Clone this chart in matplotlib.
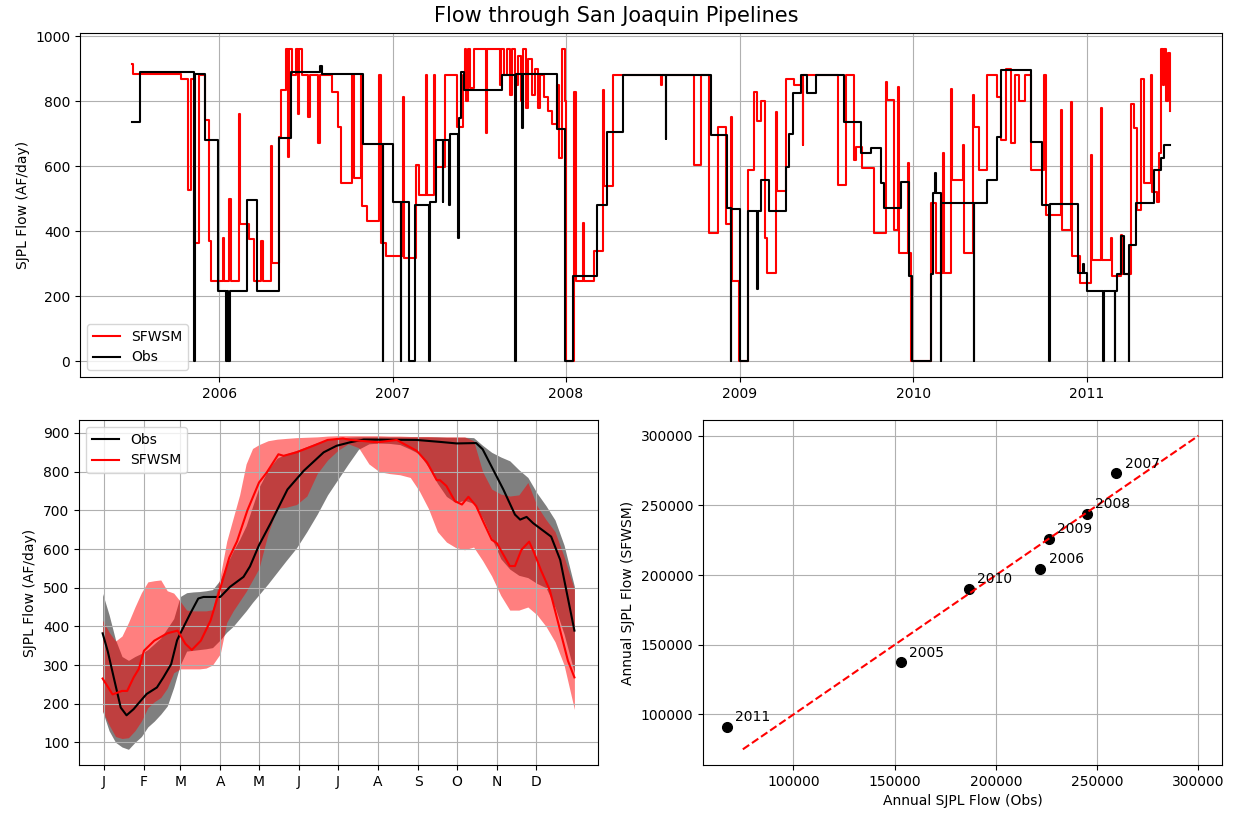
import numpy as np
import pandas as pd
import matplotlib
matplotlib.use('Agg')
import matplotlib.pyplot as plt
import matplotlib.dates as mdates

# ---- daily pipeline flow, stored as step change points (days since 2006-01-01, AF/day)
obs_t = [-184, -168, -53, -52, -31, -3, 14, 16, 19, 22, 58, 79, 126, 151, 212, 216,
         302, 344, 345, 365, 382, 383, 400, 413, 442, 443, 456, 470, 472, 484, 486,
         502, 504, 509, 516, 596, 623, 624, 638, 640, 712, 728, 744, 796, 817, 849,
         940, 941, 1035, 1070, 1077, 1078, 1097, 1113, 1133, 1134, 1140, 1158, 1193,
         1200, 1207, 1224, 1238, 1256, 1316, 1351, 1372, 1393, 1400, 1435, 1452, 1459,
         1498, 1502, 1506, 1510, 1519, 1520, 1589, 1590, 1617, 1638, 1645, 1709, 1733,
         1748, 1749, 1807, 1818, 1820, 1828, 1861, 1862, 1885, 1886, 1891, 1898, 1905,
         1915, 1916, 1930, 1968, 1982, 1989, 2002]
obs_q = [735, 890, 0, 885, 680, 215, 0, 215, 0, 215, 495, 215, 686, 890, 910, 885,
         670, 0, 670, 490, 0, 490, 0, 480, 0, 490, 680, 490, 680, 480, 700,
         380, 750, 890, 834, 880, 0, 885, 717, 885, 715, 0, 262, 482, 706, 880,
         683, 880, 696, 472, 0, 470, 0, 461, 221, 461, 558, 461, 599,
         700, 824, 880, 824, 880, 737, 640, 655, 548, 472, 553, 262, 0,
         270, 518, 579, 518, 0, 487, 0, 487, 558, 691, 895, 676, 482,
         0, 485, 273, 300, 273, 216, 0, 216, 0, 216, 270, 385, 270,
         0, 359, 487, 589, 625, 666, 666]

sim_t = [-184, -182, -80, -66, -60, -53, -42, -30, -22, -17, 7, 9, 21, 24, 42, 44, 63,
         72, 88, 92, 109, 111, 126, 130, 140, 144, 147, 154, 161, 165, 168, 175, 186,
         190, 207, 212, 237, 249, 256, 280, 283, 298, 301, 310, 337, 340, 352, 386,
         388, 414, 420, 435, 437, 453, 455, 476, 501, 513, 517, 520, 524, 528, 537,
         561, 564, 590, 593, 600, 606, 612, 616, 622, 628, 635, 640, 646, 650, 658,
         664, 670, 676, 684, 692, 700, 710, 716, 722, 727, 731, 746, 750, 765, 768,
         789, 807, 809, 828, 930, 932, 1000, 1014, 1031, 1049, 1066, 1078, 1080, 1095,
         1113, 1126, 1132, 1140, 1150, 1154, 1172, 1174, 1193, 1210, 1228, 1230, 1303,
         1320, 1336, 1340, 1354, 1379, 1403, 1405, 1421, 1428, 1431, 1450, 1452, 1456,
         1498, 1509, 1523, 1525, 1540, 1543, 1565, 1568, 1586, 1589, 1600, 1617, 1638,
         1646, 1656, 1666, 1676, 1683, 1697, 1709, 1737, 1740, 1772, 1775, 1793, 1796,
         1812, 1835, 1838, 1856, 1859, 1877, 1880, 1898, 1901, 1919, 1926, 1933, 1940,
         1947, 1961, 1964, 1975, 1978, 1982, 1986, 1990, 1994, 1998, 2001, 2002]
sim_q = [916, 885, 870, 528, 870, 364, 880, 742, 370, 247, 380, 247, 500, 247, 760, 421, 375,
         247, 370, 247, 661, 303, 691, 834, 962, 630, 962, 880, 962, 760, 962, 880, 752,
         880, 671, 880, 830, 722, 548, 880, 564, 880, 477, 431, 880, 364, 324, 814,
         318, 604, 512, 880, 512, 880, 599, 880, 722, 880, 962, 800, 960, 840, 962,
         701, 962, 850, 962, 880, 962, 820, 962, 850, 940, 800, 962, 780, 930, 820,
         900, 780, 880, 812, 770, 730, 850, 625, 962, 800, 0, 829, 247, 426, 247,
         339, 834, 538, 880, 850, 880, 604, 880, 395, 722, 421, 752, 247, 0,
         589, 829, 740, 800, 380, 273, 768, 523, 870, 850, 666, 880, 543,
         880, 620, 660, 594, 395, 860, 804, 405, 844, 334, 609, 334, 0,
         487, 273, 640, 273, 839, 558, 666, 334, 820, 722, 589, 880, 814,
         680, 900, 671, 880, 800, 880, 589, 880, 451, 773, 405, 798, 324,
         242, 635, 313, 780, 313, 380, 262, 390, 270, 793, 717, 467, 870,
         548, 880, 520, 490, 640, 960, 850, 960, 800, 950, 770, 770]

# ---- day-of-year climatology
obs_mean_day = [0, 4, 9, 14, 18.5, 24, 27, 34, 42, 47, 53, 57.6, 60, 67.8, 74, 78, 88,
                91, 98.5, 109, 114, 121, 130, 143, 155.5, 171, 181, 191.5, 202, 243,
                261, 274, 289, 294, 302, 310, 319, 323, 328, 333, 347, 354, 365]
obs_mean = [382, 335, 262, 190, 170, 186, 198, 225, 242, 268, 302, 364, 381, 433, 472,
            476, 476, 476, 502, 528, 555, 610, 667, 754, 802, 850, 867, 876, 883, 882,
            877, 873, 874, 858, 806, 754, 689, 676, 683, 667, 632, 572, 389]

sim_mean_day = [0, 7.7, 15, 19, 24, 28, 32, 40, 50, 58, 64, 69, 76, 83.5, 91, 98, 104,
                112, 121, 127, 136, 140, 150, 163, 174, 186, 191.5, 213, 227.5, 238,
                243, 251, 258.5, 261, 266, 272.5, 278, 283, 289, 295, 301, 305, 315,
                319, 324, 330, 334, 339, 346, 354, 360, 365]
sim_mean = [265, 224, 233, 233, 268, 290, 337, 363, 382, 389, 355, 339, 363, 415, 498,
            578, 620, 700, 772, 798, 845, 841, 850, 867, 882, 886, 882, 876, 882, 863,
            854, 824, 778, 778, 763, 724, 715, 735, 711, 667, 624, 615, 556,
            556, 598, 619, 589, 546, 493, 389, 311, 268]

band_day = [0, 5, 10, 15, 20, 25, 30, 35, 40, 45, 50, 55, 60, 65, 70, 75, 80, 85, 91,
            96, 101, 106, 111, 116, 121, 128, 135, 142, 150, 158, 166, 174, 182, 190,
            198, 206, 214, 222, 230, 238, 245, 252, 259, 266, 273, 280, 287, 294, 301,
            308, 315, 322, 329, 336, 343, 350, 357, 365]
obs_lo = [180, 130, 100, 88, 82, 100, 115, 140, 155, 173, 194, 242, 300, 336, 338, 340,
          342, 345, 365, 385, 400, 420, 440, 462, 482, 510, 540, 570, 603, 645, 690,
          740, 780, 820, 858, 872, 874, 873, 870, 858, 846, 812, 770, 736, 720, 726,
          718, 680, 628, 575, 548, 532, 526, 511, 500, 450, 380, 280]
obs_hi = [485, 430, 365, 322, 312, 322, 330, 340, 355, 370, 395, 420, 477, 487, 489, 490,
          492, 495, 520, 560, 595, 625, 660, 710, 760, 805, 835, 846, 855, 865, 875,
          882, 887, 889, 890, 890, 890, 890, 890, 890, 890, 890, 890, 889, 889, 889,
          888, 868, 850, 838, 828, 805, 785, 745, 712, 675, 610, 503]
sim_lo = [181, 145, 115, 110, 112, 130, 155, 190, 205, 216, 240, 280, 290, 290, 290, 290,
          292, 300, 329, 410, 440, 465, 490, 520, 550, 640, 705, 708, 715, 737, 795,
          830, 855, 872, 862, 820, 800, 795, 792, 785, 750, 705, 645, 618, 604, 598,
          605, 570, 530, 480, 442, 442, 450, 430, 400, 360, 300, 185]
sim_hi = [416, 385, 362, 375, 410, 450, 487, 515, 518, 520, 492, 486, 465, 442, 440, 440,
          440, 443, 530, 620, 680, 740, 820, 860, 870, 880, 884, 886, 888, 889, 890,
          892, 893, 893, 893, 893, 893, 892, 892, 891, 891, 891, 890, 890, 890, 890,
          880, 800, 755, 742, 737, 740, 772, 712, 676, 645, 580, 495]

month_start = [1, 32, 60, 91, 121, 152, 182, 213, 244, 274, 305, 335]
month_lbl = ['J', 'F', 'M', 'A', 'M', 'J', 'J', 'A', 'S', 'O', 'N', 'D']

# ---- annual totals
years = ['2005', '2006', '2007', '2008', '2009', '2010', '2011']
annual_obs = [153000, 222000, 259500, 245000, 226000, 186500, 67000]
annual_sim = [137500, 204500, 273000, 244000, 226000, 190000, 91000]
one2one = [75000, 300000]


t0 = pd.Timestamp('2006-01-01')
obs_dates = t0 + pd.to_timedelta(obs_t, unit='D')
sim_dates = t0 + pd.to_timedelta(sim_t, unit='D')

fig = plt.figure(figsize=(12.33, 8.14), dpi=100)
fig.suptitle('Flow through San Joaquin Pipelines', fontsize=15, y=0.993)

ax1 = fig.add_axes([0.0649, 0.5369, 0.9262, 0.4226])
ax1.plot(sim_dates, sim_q, 'r', drawstyle='steps-post', label='SFWSM')
ax1.plot(obs_dates, obs_q, 'k', drawstyle='steps-post', label='Obs')
ax1.xaxis.set_major_locator(mdates.YearLocator())
ax1.xaxis.set_major_formatter(mdates.DateFormatter('%Y'))
ax1.set_ylabel('SJPL Flow (AF/day)')
ax1.grid(True)
ax1.legend(loc='lower left')

ax2 = fig.add_axes([0.0641, 0.0602, 0.4209, 0.4238])
ax2.fill_between(band_day, obs_lo, obs_hi, color='k', alpha=0.5, lw=0)
ax2.fill_between(band_day, sim_lo, sim_hi, color='r', alpha=0.5, lw=0)
ax2.plot(obs_mean_day, obs_mean, 'k', label='Obs')
ax2.plot(sim_mean_day, sim_mean, 'r', label='SFWSM')
ax2.set_xticks(month_start)
ax2.set_xticklabels(month_lbl)
ax2.set_ylabel('SJPL Flow (AF/day)')
ax2.grid(True)
ax2.legend(loc='upper left')

ax3 = fig.add_axes([0.5702, 0.0602, 0.4209, 0.4238])
ax3.plot(annual_obs, annual_sim, 'ko', ms=7)
for yr, xo, yo in zip(years, annual_obs, annual_sim):
    ax3.annotate(yr, (xo, yo), xytext=(6, 4), textcoords='offset points')
ax3.plot(one2one, one2one, 'r--')
ax3.set_xlabel('Annual SJPL Flow (Obs)')
ax3.set_ylabel('Annual SJPL Flow (SFWSM)')
ax3.grid(True)

fig.savefig('out.png', dpi=100)
